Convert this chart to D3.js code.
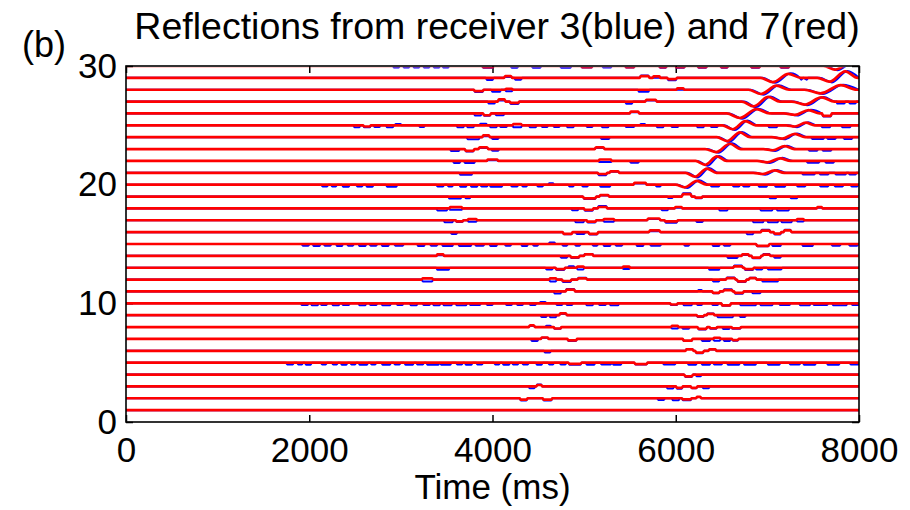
<!DOCTYPE html>
<html><head><meta charset="utf-8">
<script src="https://cdn.jsdelivr.net/npm/d3@7"></script>
<style>
html,body{margin:0;padding:0;background:#fff;}
svg{display:block;font-family:"Liberation Sans",Arial,sans-serif;}
</style></head><body>
<svg id="chart" width="910" height="510"></svg>
<script>
// Trace offsets (one trace pair per offset), axis ticks and labels
const traceLevels = [1,2,3,4,5,6,7,8,9,10,11,12,13,14,15,16,17,18,19,20,21,22,23,24,25,26,27,28,29,30];
const xTickValues = [0, 2000, 4000, 6000, 8000];
const yTickValues = [0, 10, 20, 30];
const titleText = "Reflections from receiver 3(blue) and 7(red)";
const panelLabel = "(b)";
const xLabel = "Time (ms)";

// Reflection wavelets of the red (receiver 7) traces: [trace, trough ms, peak ms, trough, peak]
const redArrivals = [
  [20, 6100, 6230, -0.22, 0.32], [21, 6210, 6340, -0.33, 0.36], [22, 6320, 6450, -0.33, 0.38],
  [23, 6440, 6590, -0.25, 0.45], [24, 6560, 6700, -0.33, 0.40], [25, 6620, 6760, -0.33, 0.36],
  [26, 6700, 6880, -0.38, 0.36], [27, 6850, 7010, -0.40, 0.40], [28, 6930, 7100, -0.36, 0.34],
  [29, 7060, 7230, -0.36, 0.34],
  [21, 6950, 7080, -0.10, 0.20], [22, 7000, 7140, -0.12, 0.22], [23, 7060, 7190, -0.10, 0.25],
  [24, 7160, 7300, -0.12, 0.28], [25, 7300, 7420, -0.10, 0.22], [26, 7300, 7450, -0.12, 0.28],
  [27, 7410, 7590, -0.25, 0.35], [28, 7580, 7800, -0.30, 0.38], [29, 7680, 7850, -0.32, 0.55],
  [30, 7740, 7900, -0.30, 0.20]
];
// Same wavelets on the blue (receiver 3) traces, arriving slightly later
const blueArrivals = [
  [20, 6125, 6255, -0.28, 0.38], [21, 6235, 6365, -0.40, 0.40], [22, 6345, 6475, -0.40, 0.42],
  [23, 6465, 6615, -0.32, 0.48], [24, 6585, 6725, -0.40, 0.44], [25, 6645, 6785, -0.40, 0.40],
  [26, 6725, 6905, -0.44, 0.40], [27, 6875, 7035, -0.46, 0.44], [28, 6955, 7125, -0.42, 0.38],
  [29, 7085, 7255, -0.42, 0.38],
  [21, 6975, 7105, -0.16, 0.24], [22, 7025, 7165, -0.18, 0.26], [23, 7085, 7215, -0.16, 0.29],
  [24, 7185, 7325, -0.18, 0.32], [25, 7325, 7445, -0.16, 0.26], [26, 7325, 7475, -0.18, 0.32],
  [27, 7435, 7615, -0.31, 0.39], [28, 7605, 7825, -0.36, 0.42], [29, 7705, 7875, -0.38, 0.58],
  [30, 7765, 7925, -0.35, 0.24]
];

// Short wiggles: [trace, centre ms, half length ms, red offset, blue offset]
const blips = [
  [30,2950,25,0,-0.12],[30,3060,25,0,-0.12],[30,3170,25,0,-0.12],[30,3280,25,0,-0.12],[30,3390,25,0,-0.12],[30,3490,25,0,-0.12],
  [30,3950,50,-0.1,-0.15],[30,4240,30,0,-0.15],[30,4480,40,0,-0.15],[30,4800,50,0,-0.15],[30,5030,50,-0.1,-0.12],[30,5250,40,0,-0.12],
  [30,5500,40,-0.1,-0.12],[30,5860,30,-0.1,-0.15],[30,6050,40,-0.1,-0.15],[30,6290,40,-0.1,-0.15],[30,6530,30,-0.1,-0.15],[30,6870,40,-0.1,-0.15],[30,7190,40,-0.1,-0.15],

  [29,3970,30,0,-0.17],[29,4170,30,0.15,0.08],[29,4280,30,0,-0.15],[29,5660,40,0.15,0.2],[29,5790,30,0.12,0],[29,5960,40,-0.1,-0.2],[29,7400,30,0,-0.15],

  [28,3850,40,-0.12,-0.2],[28,4040,40,0,-0.17],[28,4180,30,0.08,-0.12],[28,5650,50,0,-0.18],[28,6050,30,0.12,0],

  [27,3990,30,0,-0.17],[27,4100,30,0.18,0.1],[27,4240,40,-0.1,-0.2],[27,5490,30,0,-0.18],[27,5730,50,0.15,0.1],[27,7800,40,0,-0.15],[27,7930,30,0,-0.15],

  [26,3840,30,0,-0.17],[26,3940,30,-0.15,-0.2],[26,4080,40,0,-0.15],[26,5550,40,0.15,0.1],[26,7650,40,-0.2,-0.25],

  [25,2520,25,0,-0.17],[25,2630,30,-0.1,-0.17],[25,2740,25,0,-0.15],[25,2880,30,0,-0.17],[25,2970,25,0,0.12],[25,3230,20,0,-0.15],
  [25,3650,30,0,-0.17],[25,3760,30,0,-0.17],[25,3900,30,0,0.14],[25,4010,30,0,-0.17],[25,4120,30,0,-0.15],[25,4270,40,0.1,-0.17],
  [25,4440,30,0,-0.17],[25,4570,25,0,-0.15],[25,4700,25,0,-0.15],[25,4850,30,0,-0.17],[25,5060,25,0,-0.15],[25,5230,30,0,-0.17],
  [25,5500,40,0,-0.15],[25,5640,20,0,0.12],[25,5830,30,0,-0.17],[25,5990,30,0,-0.15],[25,6270,30,0,-0.17],[25,6420,30,0,-0.15],
  [25,7060,40,0,-0.17],[25,7640,40,0,-0.17],[25,7860,40,0,-0.17],

  [24,3790,60,0,-0.17],[24,3930,30,0.15,0.08],[24,4030,30,0,-0.15],[24,5230,40,0,-0.15],[24,7550,60,0,-0.15],[24,7700,40,0,-0.15],[24,7880,40,0,-0.15],

  [23,3590,40,0,-0.17],[23,3750,40,-0.15,-0.2],[23,3900,40,0.15,0.1],[23,4030,30,0,-0.15],[23,5170,40,0.15,0.1],[23,7500,40,0,-0.15],[23,7650,40,0,-0.15],

  [22,3610,30,0,-0.17],[22,3750,50,0,-0.17],[22,4000,50,0.12,0.05],[22,5230,60,0.12,-0.1],[22,5550,40,0,-0.15],[22,7500,60,0,-0.15],[22,7680,40,0,-0.15],

  [21,3710,60,0,-0.17],[21,5200,40,-0.1,-0.2],[21,5330,40,0.12,0.08],[21,7450,60,0,-0.15],[21,7620,40,0,-0.15],[21,7800,50,0,-0.15],[21,7930,30,0,-0.15],

  [20,2170,25,0,-0.15],[20,2270,20,0,-0.15],[20,2400,30,0,-0.17],[20,2550,25,0,-0.15],[20,2660,30,0,-0.17],[20,2900,50,0,-0.17],
  [20,3430,30,0,-0.15],[20,3540,20,0,-0.15],[20,3680,30,0,-0.17],[20,3800,30,0,-0.17],[20,3910,30,0,-0.15],[20,4040,60,0,-0.17],
  [20,4240,30,0,-0.15],[20,4350,20,0,-0.15],[20,4520,25,0,-0.15],[20,4640,20,0,0.12],[20,4860,20,0,-0.15],[20,5010,25,0,-0.15],
  [20,5230,50,0,-0.17],[20,5610,60,0.15,0.1],[20,5810,20,0,-0.15],[20,6430,40,0,-0.15],[20,6660,30,0,-0.15],[20,6770,30,0,-0.15],
  [20,6950,40,0,-0.17],[20,7140,50,0,-0.17],[20,7370,40,0,-0.15],[20,7620,40,0,-0.15],[20,7780,40,0,-0.15],[20,7950,30,0,-0.15],

  [19,3590,60,0,-0.17],[19,3730,20,0,-0.15],[19,5060,60,-0.15,-0.2],[19,5220,40,0.12,0.08],[19,5940,20,0,-0.12],[19,6120,40,0.2,0.28],
  [19,6250,30,-0.1,-0.15],[19,7060,30,0,-0.15],[19,7290,30,0,-0.15],

  [18,3450,50,0,-0.17],[18,3600,60,0.1,-0.12],[18,4900,30,0,-0.15],[18,5050,40,-0.12,-0.2],[18,5200,40,0.12,0.2],[18,5880,30,0,-0.15],
  [18,6030,30,0.12,0.05],[18,6520,40,0,-0.17],[18,6990,60,0,-0.17],[18,7170,60,0,-0.17],[18,7570,20,0.1,0.05],

  [17,3520,40,0,-0.17],[17,3640,30,-0.1,-0.15],[17,3780,40,0.1,-0.12],[17,4950,40,0,-0.17],[17,5080,40,-0.12,-0.18],[17,5270,50,0.1,-0.12],
  [17,5760,60,0.15,0.1],[17,5950,60,-0.1,-0.2],[17,6260,30,0,-0.15],[17,6900,50,0,-0.17],[17,7060,50,0,-0.17],[17,7210,50,0,-0.17],[17,7360,30,0.1,-0.1],

  [16,3580,25,0,-0.15],[16,4820,40,-0.15,-0.18],[16,4960,40,0,-0.15],[16,5100,40,-0.15,-0.2],[16,5770,50,0.15,0.08],[16,6810,30,0,-0.17],
  [16,6980,40,0.12,0.2],[16,7110,30,-0.12,-0.2],[16,7220,30,0.15,0.2],

  [15,1960,30,0,-0.15],[15,2080,30,0,-0.17],[15,2200,30,0,-0.15],[15,2330,25,0,-0.17],[15,2450,25,0,-0.15],[15,2580,30,0,-0.17],
  [15,2700,30,0,-0.15],[15,2830,30,0,-0.17],[15,2980,40,0,-0.15],[15,3220,30,0,-0.17],[15,3360,30,0,-0.15],[15,3510,50,0,-0.17],
  [15,3700,60,0,-0.17],[15,3860,40,0,-0.15],[15,4010,30,0,-0.17],[15,4170,25,0,-0.15],[15,4350,25,0,-0.17],[15,4470,20,0,-0.15],
  [15,4650,25,0,0.12],[15,4790,20,0,-0.15],[15,4930,20,0,-0.15],[15,5120,20,0,-0.15],[15,5250,30,0,-0.17],[15,5380,30,0,-0.15],
  [15,5610,30,0,-0.17],[15,5780,50,0,-0.15],[15,6120,20,0,-0.15],[15,6440,30,0,-0.17],[15,6560,30,0,-0.15],[15,6950,60,-0.15,-0.2],
  [15,7100,40,0,-0.17],[15,7440,50,0,-0.17],[15,7750,40,0,-0.15],[15,7940,40,0,-0.15],

  [14,3430,30,0.12,0.05],[14,4780,30,0,-0.15],[14,4900,40,-0.12,-0.18],[14,5050,40,0.12,0.15],[14,6620,50,0,-0.17],[14,6760,30,0.12,0.08],
  [14,6880,40,-0.15,-0.2],[14,6990,30,0.1,0.15],[14,7110,30,0,-0.15],

  [13,3460,60,0,-0.17],[13,4620,30,0,-0.15],[13,4740,40,-0.12,-0.2],[13,4860,25,0,0.12],[13,4960,30,0.1,-0.15],[13,5460,30,0.1,-0.1],
  [13,6420,50,0,-0.17],[13,6680,40,0.12,0.18],[13,6800,40,-0.12,-0.2],[13,6910,30,0,-0.15],[13,7080,70,0,-0.15],

  [12,3290,50,0.1,-0.15],[12,4660,30,0.1,-0.15],[12,4810,40,-0.12,-0.2],[12,4980,40,0.1,0.15],[12,6440,30,0,-0.15],[12,6600,40,0.12,0.18],
  [12,6720,40,-0.15,-0.2],[12,6840,30,0.12,0.15],[12,7030,80,0,-0.17],

  [11,4710,30,0,-0.17],[11,4850,40,0.15,0.2],[11,6265,15,0,0.12],[11,6440,30,-0.12,-0.15],[11,6570,40,0.12,0.18],[11,6690,40,-0.12,-0.2],[11,6880,40,0,-0.15],

  [10,1950,30,0,-0.15],[10,2060,30,0,-0.17],[10,2160,25,0,-0.15],[10,2290,30,0,-0.17],[10,2400,30,0,-0.15],[10,2580,30,0,-0.17],
  [10,2700,30,0,-0.15],[10,2840,40,0,-0.17],[10,2990,25,0,-0.15],[10,3140,30,0,-0.17],[10,3280,30,0,-0.15],[10,3390,30,0,-0.17],
  [10,3510,40,0,-0.17],[10,3660,50,0,-0.17],[10,3810,50,0,-0.15],[10,3970,25,0,-0.15],[10,4180,25,0,-0.15],[10,4300,25,0,-0.15],
  [10,4440,25,0,-0.15],[10,4550,25,0,0.12],[10,4730,25,0,-0.15],[10,4840,25,0,-0.15],[10,5060,30,0,-0.17],[10,5200,30,0,-0.15],
  [10,5330,40,0,-0.17],[10,5980,30,-0.1,-0.15],[10,6130,40,0,-0.17],[10,6260,20,0,-0.15],[10,6430,25,0,-0.15],[10,6550,40,-0.18,-0.2],
  [10,6790,80,0,-0.17],[10,6990,60,0,-0.17],[10,7190,50,0,-0.15],[10,7410,50,0,-0.17],[10,7580,70,0,-0.15],[10,7790,70,0,-0.17],[10,7960,30,0,-0.15],

  [9,4560,25,0,-0.15],[9,4660,30,0,-0.17],[9,4770,30,0.15,0.1],[9,6270,30,-0.1,-0.15],[9,6380,30,0.12,0.15],[9,6540,80,0,-0.17],[9,6730,25,0,-0.15],

  [8,4430,20,0.15,0.1],[8,4610,20,0,0.12],[8,4710,30,-0.12,-0.15],[8,5990,30,0.1,-0.12],[8,6110,30,0,-0.15],[8,6290,40,-0.15,-0.2],
  [8,6410,30,-0.1,-0.15],[8,6550,30,0,-0.17],[8,6660,40,-0.1,-0.15],

  [7,4460,30,0,-0.17],[7,4570,30,0.12,0.1],[7,4870,40,-0.12,-0.17],[7,6130,40,-0.15,-0.18],[7,6330,40,0,-0.17],[7,6450,30,0.1,-0.15],
  [7,6560,30,0,-0.17],[7,6650,25,-0.1,-0.15],

  [6,4600,25,0,-0.15],[6,6150,30,0.12,0.15],[6,6260,35,-0.15,-0.2],[6,6400,30,0.12,0.1],

  [5,1790,30,0,-0.15],[5,1900,20,0,-0.15],[5,1990,25,0,-0.17],[5,2160,20,0,-0.15],[5,2280,20,0,-0.15],[5,2380,25,0,-0.17],
  [5,2480,20,0,-0.15],[5,2590,40,0,-0.17],[5,2700,20,0,-0.15],[5,2840,40,0,-0.17],[5,2960,25,0,-0.15],[5,3090,40,0,-0.17],
  [5,3210,30,0,-0.15],[5,3350,60,0,-0.17],[5,3490,50,0,-0.17],[5,3640,25,0,-0.15],[5,3740,30,0,-0.17],[5,3860,25,0,-0.15],
  [5,4050,20,0,-0.15],[5,4150,30,0,-0.17],[5,4250,25,0,-0.15],[5,4360,25,0,-0.15],[5,4510,25,0,-0.17],[5,4640,20,0,-0.15],
  [5,4770,25,0,-0.15],[5,4900,60,-0.1,-0.17],[5,5070,40,0,-0.17],[5,5240,50,0,-0.15],[5,5360,40,0,-0.17],[5,5620,60,-0.12,-0.15],
  [5,5930,60,0,-0.15],[5,6180,40,0,-0.17],[5,6330,40,0,-0.17],[5,6460,40,0,-0.15],[5,6630,60,0,-0.17],[5,6810,60,0,-0.17],
  [5,7070,60,0,-0.17],[5,7300,50,0,-0.15],[5,7460,60,0,-0.17],[5,7720,60,0,-0.17],[5,7950,40,0,-0.15],

  [4,6140,35,-0.15,-0.2],[4,6250,20,0,-0.15],

  [3,4430,25,0,-0.15],[3,4510,20,0.12,0.15],[3,5940,30,0,-0.17],[3,6040,25,-0.12,-0.2],[3,6200,25,-0.12,-0.15],[3,6330,30,0,-0.15],

  [2,4340,30,-0.12,-0.18],[2,4600,40,-0.12,-0.18],[2,5840,30,0,-0.15],[2,6000,30,0,-0.17],[2,6120,40,-0.1,-0.17],[2,6250,15,0.12,0.1]
];

const svg = d3.select("#chart");
const x = d3.scaleLinear().domain([0, 8000]).range([126, 859]);
const y = d3.scaleLinear().domain([0, 30]).range([422, 66]);
const fontSize = 35;

// Knot points of one trace: flat baseline plus its wiggles and wavelets
// col = 3 for red offsets, 4 for blue offsets in the blip rows
function knotsFor(level, col, arrivalRows) {
  const pts = [{t: 0, v: 0}, {t: 8000, v: 0}];
  const ramp = 15;
  blips.filter(d => d[0] === level).forEach(d => {
    const [, t, h] = d, v = d[col];
    if (v === 0) return;
    pts.push({t: t - h - ramp, v: 0}, {t: t - h, v}, {t: t + h, v}, {t: t + h + ramp, v: 0});
  });
  arrivalRows.filter(d => d[0] === level).forEach(([, t1, t2, a1, a2]) => {
    const w = 0.8 * (t2 - t1);
    pts.push({t: t1 - w, v: 0}, {t: t1, v: a1}, {t: t2, v: a2}, {t: t2 + w, v: 0});
  });
  return pts.filter(p => p.t >= 0 && p.t <= 8000).sort((a, c) => a.t - c.t).map(p => ({...p, level}));
}

// Axes (ticks point inward)
const gx = svg.append("g").attr("transform", `translate(0,${y(0)})`)
  .call(d3.axisBottom(x).tickValues(xTickValues).tickSizeInner(-7).tickSizeOuter(0).tickPadding(15).tickFormat(d3.format("d")));
const gxTop = svg.append("g").attr("transform", `translate(0,${y(30)})`)
  .call(d3.axisTop(x).tickValues(xTickValues).tickSizeInner(-7).tickSizeOuter(0).tickFormat(""));
const gy = svg.append("g").attr("transform", `translate(${x(0)},0)`)
  .call(d3.axisLeft(y).tickValues(yTickValues).tickSizeInner(-7).tickSizeOuter(0).tickPadding(9));
const gyRight = svg.append("g").attr("transform", `translate(${x(8000)},0)`)
  .call(d3.axisRight(y).tickValues(yTickValues).tickSizeInner(-7).tickSizeOuter(0).tickFormat(""));
[gx, gxTop, gy, gyRight].forEach(g => {
  g.select(".domain").remove();
  g.selectAll(".tick line").attr("stroke", "#000").attr("stroke-width", 1.5);
  g.selectAll("text").attr("font-size", fontSize).attr("fill", "#000")
    .attr("font-family", '"Liberation Sans", Arial, sans-serif');
});

// Traces, clipped to the plot box; blue sits under the slightly wider red line
svg.append("clipPath").attr("id", "plotClip").append("rect")
  .attr("x", x(0)).attr("y", y(30) + 1.2).attr("width", x(8000) - x(0)).attr("height", y(0) - y(30) - 1.2);
const traceLayer = svg.append("g").attr("clip-path", "url(#plotClip)");
const traceLine = d3.line()
  .x(p => x(p.t))
  .y(p => y(p.level + p.v))
  .curve(d3.curveMonotoneX);

const blueTraces = traceLevels.map(level => knotsFor(level, 4, blueArrivals));
const redTraces = traceLevels.map(level => knotsFor(level, 3, redArrivals));
traceLayer.selectAll("path.blue").data(blueTraces).join("path")
  .attr("class", "blue").attr("fill", "none").attr("stroke", "#0000ff").attr("stroke-width", 2.0)
  .attr("d", traceLine);
traceLayer.selectAll("path.red").data(redTraces).join("path")
  .attr("class", "red").attr("fill", "none").attr("stroke", "#ff0000").attr("stroke-width", 2.7)
  .attr("d", traceLine);

// Plot box
svg.append("rect").attr("x", x(0)).attr("y", y(30)).attr("width", x(8000) - x(0)).attr("height", y(0) - y(30))
  .attr("fill", "none").attr("stroke", "#000").attr("stroke-width", 1.6);

// Titles
svg.append("text").attr("x", 497).attr("y", 39).attr("text-anchor", "middle")
  .attr("font-size", 37.5).attr("fill", "#000").text(titleText);
svg.append("text").attr("x", 22).attr("y", 57).attr("font-size", 36).attr("fill", "#000").text(panelLabel);
svg.append("text").attr("x", (x(0) + x(8000)) / 2).attr("y", 499).attr("text-anchor", "middle")
  .attr("font-size", fontSize).attr("fill", "#000").text(xLabel);
</script>
</body></html>
